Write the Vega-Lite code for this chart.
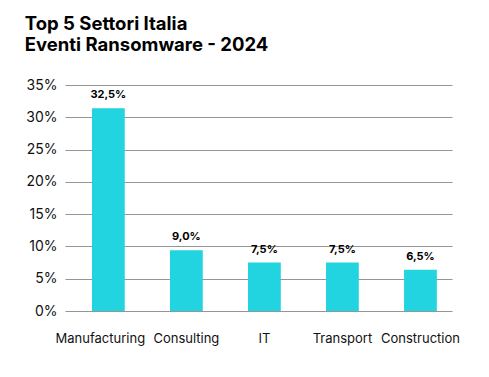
{
  "$schema": "https://vega.github.io/schema/vega-lite/v6.json",
  "autosize": "none",
  "width": 387,
  "height": 226,
  "padding": {"left": 65, "top": 85, "right": 37, "bottom": 66},
  "background": "white",
  "title": {
    "text": ["Top 5 Settori Italia", "Eventi Ransomware - 2024"],
    "anchor": "start",
    "frame": "bounds",
    "font": "Inter",
    "fontSize": 18.5,
    "fontWeight": "bold",
    "color": "#000000",
    "lineHeight": 21,
    "offset": 24,
    "dx": -1
  },
  "config": {
    "view": {"stroke": null},
    "font": "Inter"
  },
  "data": {
    "values": [
      {"settore": "Manufacturing", "valore": 31.4, "etichetta": "32,5%"},
      {"settore": "Consulting", "valore": 9.4, "etichetta": "9,0%"},
      {"settore": "IT", "valore": 7.5, "etichetta": "7,5%"},
      {"settore": "Transport", "valore": 7.5, "etichetta": "7,5%"},
      {"settore": "Construction", "valore": 6.4, "etichetta": "6,5%"}
    ]
  },
  "encoding": {
    "x": {
      "field": "settore",
      "type": "nominal",
      "sort": null,
      "scale": {"paddingInner": 0.58, "paddingOuter": 0.27, "align": 0.64},
      "axis": {
        "title": null,
        "labelAngle": 0,
        "ticks": false,
        "domain": false,
        "labelFontSize": 13,
        "labelColor": "#111111",
        "labelPadding": 21,
        "labelOffset": {"condition": {"test": "datum.value === 'Manufacturing'", "value": -8}, "value": 0}
      }
    },
    "y": {
      "field": "valore",
      "type": "quantitative",
      "scale": {"domain": [0, 35]},
      "axis": {
        "title": null,
        "values": [0, 5, 10, 15, 20, 25, 30, 35],
        "labelExpr": "datum.value + '%'",
        "ticks": false,
        "domain": false,
        "labelFontSize": 14,
        "labelColor": "#111111",
        "labelPadding": 8,
        "gridColor": "#959595",
        "gridWidth": 1
      }
    }
  },
  "layer": [
    {"mark": {"type": "bar", "color": "#22D3E0"}},
    {
      "mark": {"type": "text", "dy": -13, "fontSize": 11, "fontWeight": "bold", "color": "#000000"},
      "encoding": {"text": {"field": "etichetta"}}
    }
  ]
}
